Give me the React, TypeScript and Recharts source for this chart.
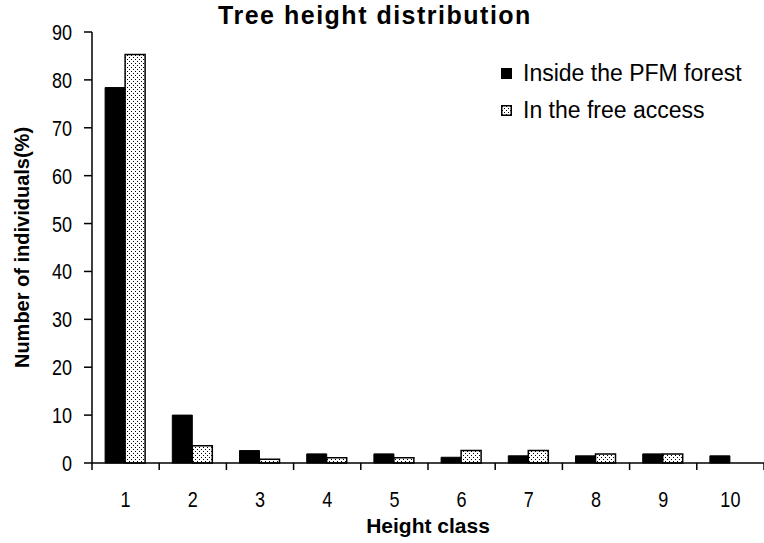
import React from "react";
import { BarChart, Bar, XAxis, YAxis } from "recharts";

const heightClasses = ["1", "2", "3", "4", "5", "6", "7", "8", "9", "10"];
const insidePfm = [78.4, 10, 2.6, 1.9, 1.9, 1.2, 1.5, 1.5, 1.9, 1.5];
const freeAccess = [85.3, 3.6, 0.8, 1.1, 1.1, 2.6, 2.6, 1.9, 1.9, 0];
const yTicks = [0, 10, 20, 30, 40, 50, 60, 70, 80, 90];

const data = heightClasses.map((c, i) => ({
  cls: c,
  inside: insidePfm[i],
  free: freeAccess[i],
}));

const FONT = "'Liberation Sans', Arial, sans-serif";
const PLOT_LEFT = 92;
const PLOT_RIGHT = 764;
const BAND = (PLOT_RIGHT - PLOT_LEFT) / heightClasses.length;

function XTick(props: any) {
  const { x, y, payload, index } = props;
  const left = x - BAND / 2;
  return (
    <g>
      <line x1={left} y1={y - 8} x2={left} y2={y - 1} stroke="#000" strokeWidth={1.5} />
      {index === heightClasses.length - 1 && (
        <line x1={left + BAND} y1={y - 8} x2={left + BAND} y2={y - 1} stroke="#000" strokeWidth={1.5} />
      )}
      <text
        transform={`translate(${x},${y + 36}) scale(0.82,1)`}
        textAnchor="middle"
        fontSize={22}
        fontFamily={FONT}
        fill="#000"
      >
        {payload.value}
      </text>
    </g>
  );
}

function YTick(props: any) {
  const { x, y, payload } = props;
  return (
    <text
      transform={`translate(${x},${y + 8}) scale(0.82,1)`}
      textAnchor="end"
      fontSize={22}
      fontFamily={FONT}
      fill="#000"
    >
      {payload.value}
    </text>
  );
}

function DotPattern({ id }: { id: string }) {
  return (
    <pattern id={id} width={4} height={4} patternUnits="userSpaceOnUse">
      <rect width={4} height={4} fill="#fff" />
      <rect x={1} y={1} width={1} height={1} fill="#000" />
      <rect x={3} y={3} width={1} height={1} fill="#000" />
    </pattern>
  );
}

const legendItems = [
  { label: "Inside the PFM forest", fill: "#000" },
  { label: "In the free access", fill: "url(#lgdots)" },
];

function LegendBox() {
  return (
    <div
      style={{
        position: "absolute",
        left: 501,
        top: 55,
        fontFamily: FONT,
        fontSize: 23,
        color: "#000",
        lineHeight: "37px",
      }}
    >
      {legendItems.map((it) => (
        <div key={it.label} style={{ display: "flex", alignItems: "center", height: 37 }}>
          <svg width={11} height={11} style={{ marginRight: 11 }}>
            <defs>
              <DotPattern id="lgdots" />
            </defs>
            <rect x={0.75} y={0.75} width={9.5} height={9.5} fill={it.fill} stroke="#000" strokeWidth={1.5} />
          </svg>
          <span>{it.label}</span>
        </div>
      ))}
    </div>
  );
}

export default function App() {
  return (
    <div style={{ position: "absolute", left: 0, top: 0, width: 764, height: 543, background: "#fff" }}>
      <BarChart
        width={764}
        height={543}
        data={data}
        margin={{ top: 32, right: 0, left: 0, bottom: 0 }}
        barCategoryGap="19.5%"
        barGap={0}
      >
        <defs>
          <DotPattern id="dots" />
        </defs>
        <XAxis
          dataKey="cls"
          height={80}
          axisLine={{ stroke: "#000", strokeWidth: 1.5 }}
          tickLine={false}
          interval={0}
          tick={<XTick />}
          label={{
            value: "Height class",
            position: "insideBottom",
            offset: 10,
            style: { fontFamily: FONT, fontWeight: "bold", fontSize: 21, fill: "#000" },
          }}
        />
        <YAxis
          width={92}
          domain={[0, 90]}
          ticks={yTicks}
          interval={0}
          axisLine={{ stroke: "#000", strokeWidth: 1.5 }}
          tickLine={{ stroke: "#000", strokeWidth: 1.5 }}
          tickSize={8}
          tickMargin={12}
          tick={<YTick />}
          label={{
            value: "Number of individuals(%)",
            angle: -90,
            position: "insideLeft",
            offset: 22,
            style: { fontFamily: FONT, fontWeight: "bold", fontSize: 20, fill: "#000", textAnchor: "middle" },
          }}
        />
        <Bar dataKey="inside" name="Inside the PFM forest" fill="#000" stroke="#000" strokeWidth={1} isAnimationActive={false} />
        <Bar dataKey="free" name="In the free access" fill="url(#dots)" stroke="#000" strokeWidth={1.5} isAnimationActive={false} />
      </BarChart>
      <div
        style={{
          position: "absolute",
          left: 0,
          top: 1,
          width: 750,
          textAlign: "center",
          fontFamily: FONT,
          fontWeight: "bold",
          fontSize: 25,
          letterSpacing: 1.5,
          color: "#000",
        }}
      >
        Tree height distribution
      </div>
      <LegendBox />
    </div>
  );
}
